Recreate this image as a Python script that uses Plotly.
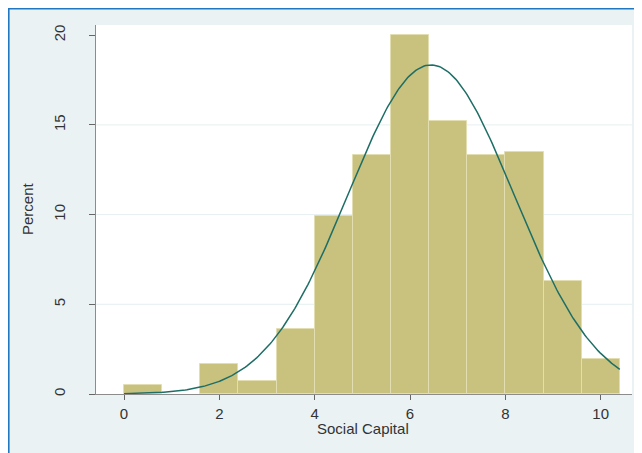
import numpy as np
import plotly.graph_objects as go

# Histogram of Social Capital (percent per bin)
bin_left = [0.0, 1.6, 2.4, 3.2, 4.0, 4.8, 5.6, 6.4, 7.2, 8.0, 8.8, 9.6]
percent = [0.5, 1.7, 0.72, 3.65, 9.9, 13.3, 20.0, 15.2, 13.3, 13.5, 6.28, 1.93]
bin_width = 0.8

# Normal density overlay parameters
norm_mean = 6.44
norm_sd = 1.74
curve_start, curve_end = 0.0, 10.4

x_ticks = [0, 2, 4, 6, 8, 10]
y_ticks = [0, 5, 10, 15, 20]
grid_vals = [5, 10, 15]

mids = [b + bin_width / 2 for b in bin_left]
xc = np.linspace(curve_start, curve_end, 300)
yc = 100 * bin_width * np.exp(-0.5 * ((xc - norm_mean) / norm_sd) ** 2) / (norm_sd * np.sqrt(2 * np.pi))

fig = go.Figure()
fig.add_trace(go.Bar(
    x=mids, y=percent, width=bin_width,
    marker=dict(color="#C9C27E", line=dict(color="#E3DEB2", width=1)),
    hoverinfo="skip",
))
fig.add_trace(go.Scatter(
    x=xc, y=yc, mode="lines",
    line=dict(color="#1E6E66", width=1.5),
    hoverinfo="skip",
))

W, H = 642, 453
L, R, T, B = 88, 18, 17, 67
pw, ph = W - L - R, H - T - B

def px_x(p):
    return (p - L) / pw

def px_y(p):
    return (H - B - p) / ph

shapes = []
for g in grid_vals:
    shapes.append(dict(type="line", xref="paper", yref="y", x0=0, x1=1, y0=g, y1=g,
                       line=dict(color="#E6EFF1", width=1), layer="below"))
# blue frame lines (top and left edges of the figure)
shapes.append(dict(type="line", xref="paper", yref="paper", x0=px_x(0), x1=px_x(W + 5),
                   y0=px_y(0.8), y1=px_y(0.8), line=dict(color="#2277C2", width=1.6), layer="above"))
shapes.append(dict(type="line", xref="paper", yref="paper", x0=px_x(0.8), x1=px_x(0.8),
                   y0=px_y(0), y1=px_y(H + 5), line=dict(color="#2277C2", width=1.6), layer="above"))

FS = 15

fig.update_layout(
    width=W, height=H,
    margin=dict(l=L, r=R, t=T, b=B),
    paper_bgcolor="#EAF2F3",
    plot_bgcolor="white",
    showlegend=False,
    bargap=0,
    font=dict(family="Liberation Sans, Arial, sans-serif", color="#333333", size=FS),
    shapes=shapes,
    annotations=[
        dict(text="Social Capital", xref="paper", yref="paper", x=px_x(355), y=px_y(420),
             showarrow=False, font=dict(size=FS, color="#333333"), xanchor="center", yanchor="middle"),
        dict(text="Percent", xref="paper", yref="paper", x=px_x(19), y=px_y(201),
             showarrow=False, textangle=-90, font=dict(size=FS, color="#333333"),
             xanchor="center", yanchor="middle"),
    ],
)
fig.update_xaxes(
    range=[(L - 116) / 47.67, (W - R - 116) / 47.67],
    tickvals=x_ticks, ticktext=[str(v) for v in x_ticks],
    showgrid=False, zeroline=False,
    showline=True, linecolor="#8C8C8C", linewidth=1.2,
    ticks="outside", ticklen=5, tickcolor="#666666", tickwidth=1,
    tickfont=dict(size=FS, color="#333333"),
    ticklabelstandoff=1,
)
fig.update_yaxes(
    range=[0, (H - B - T) / 17.94],
    tickvals=y_ticks, ticktext=[str(v) for v in y_ticks],
    showgrid=False, zeroline=False,
    showline=True, linecolor="#8C8C8C", linewidth=1.2,
    ticks="outside", ticklen=6, tickcolor="#666666", tickwidth=1,
    tickangle=-90,
    tickfont=dict(size=FS, color="#333333"),
    ticklabelstandoff=18,
)

fig.write_html("out.html")
